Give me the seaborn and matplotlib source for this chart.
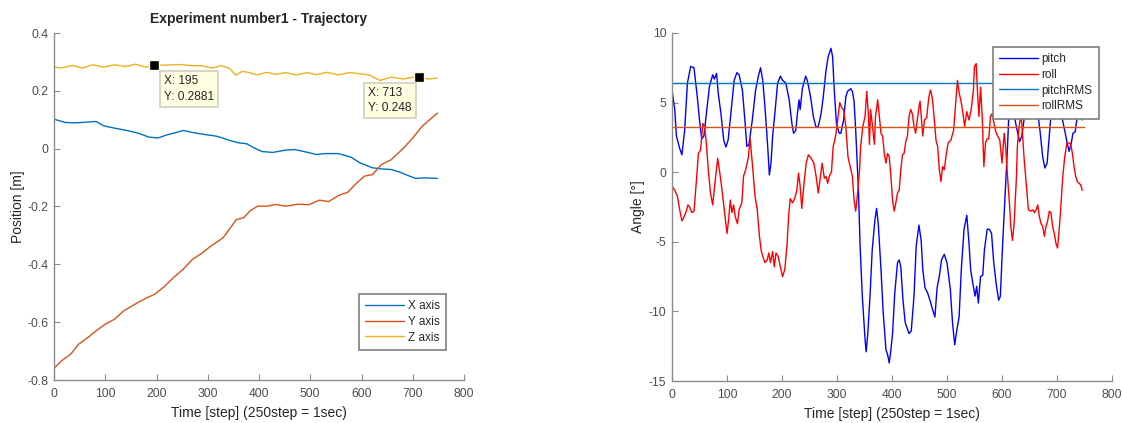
import numpy as np
import pandas as pd
import matplotlib
matplotlib.use("Agg")
import matplotlib.pyplot as plt
import seaborn as sns
from matplotlib.ticker import FuncFormatter

# ---------------- Left panel data (position, m) ----------------
x_steps = [0, 21, 39, 58, 82, 97, 118, 142, 167, 185, 203, 221, 239, 252, 270, 294, 318, 342, 361, 376,
           391, 406, 427, 452, 470, 488, 512, 530, 555, 579, 597, 621, 639, 658, 676, 691, 706, 724, 748]
x_vals = [0.102, 0.091, 0.089, 0.091, 0.094, 0.079, 0.071, 0.063, 0.052, 0.040, 0.037, 0.048, 0.056, 0.063,
          0.056, 0.049, 0.043, 0.029, 0.020, 0.017, 0.002, -0.010, -0.013, -0.005, -0.003, -0.010, -0.020,
          -0.017, -0.017, -0.029, -0.049, -0.066, -0.070, -0.072, -0.082, -0.093, -0.103, -0.101, -0.103]

y_steps = [0, 15, 33, 48, 64, 82, 100, 118, 136, 155, 167, 182, 197, 215, 233, 252, 270, 288, 306, 330,
           342, 356, 370, 382, 397, 415, 433, 452, 476, 497, 518, 536, 555, 573, 591, 606, 621, 639, 658,
           682, 700, 718, 748]
y_vals = [-0.760, -0.733, -0.710, -0.676, -0.656, -0.630, -0.607, -0.590, -0.561, -0.541, -0.529, -0.515,
          -0.503, -0.477, -0.446, -0.417, -0.383, -0.362, -0.337, -0.308, -0.279, -0.245, -0.239, -0.216,
          -0.199, -0.199, -0.193, -0.199, -0.192, -0.194, -0.178, -0.183, -0.162, -0.151, -0.118, -0.095,
          -0.090, -0.055, -0.038, 0.002, 0.037, 0.077, 0.123]

z_steps = [0, 15, 36, 55, 76, 97, 118, 139, 159, 179, 195, 215, 245, 270, 288, 309, 327, 342, 355, 367,
           379, 397, 415, 433, 452, 473, 494, 512, 533, 555, 576, 597, 615, 636, 658, 682, 700, 713, 730, 748]
z_vals = [0.282, 0.279, 0.288, 0.279, 0.290, 0.282, 0.290, 0.284, 0.292, 0.282, 0.2881, 0.289, 0.291, 0.287,
          0.287, 0.279, 0.287, 0.278, 0.254, 0.267, 0.264, 0.255, 0.264, 0.257, 0.263, 0.255, 0.263, 0.256,
          0.264, 0.255, 0.263, 0.259, 0.255, 0.236, 0.247, 0.241, 0.247, 0.248, 0.241, 0.244]

tip_steps = [195, 713]
tip_vals = [0.2881, 0.248]

left_labels = ["X axis", "Y axis", "Z axis"]

# ---------------- Right panel data (angle, deg) ----------------
pitch_steps = [0, 5, 8, 14, 18, 23, 28, 34, 40, 46, 50, 54, 58, 62, 68, 74, 77, 81, 84, 89, 94, 98, 102,
               107, 113, 118, 122, 128, 133, 136, 140, 146, 152, 157, 161, 165, 169, 174, 177, 180, 183,
               187, 192, 197, 201, 207, 213, 218, 221, 225, 228, 231, 233, 237, 243, 246, 252, 257, 262,
               266, 271, 275, 280, 284, 289, 292, 295, 299, 304, 307, 312, 316, 319, 325, 328, 331, 334,
               339, 342, 346, 351, 353, 356, 360, 364, 369, 372, 375, 380, 384, 389, 392, 395, 398, 401,
               405, 410, 413, 416, 420, 424, 431, 435, 440, 444, 449, 453, 456, 460, 465, 469, 474, 478,
               482, 486, 490, 495, 500, 506, 510, 514, 518, 522, 526, 531, 536, 540, 543, 547, 551, 554,
               557, 561, 565, 568, 573, 577, 581, 585, 590, 594, 597, 601, 606, 610, 613, 617, 621, 626,
               632, 636, 640, 645, 653, 660, 665, 669, 674, 678, 682, 686, 690, 694, 698, 701, 706, 710,
               714, 718, 722, 726, 729, 733, 736, 740, 743, 746]
pitch_vals = [5.9, 4.5, 2.6, 1.7, 1.25, 3.0, 6.4, 7.6, 7.5, 5.4, 3.75, 2.4, 2.6, 4.0, 6.15, 7.0, 6.7, 7.1,
              5.7, 4.2, 2.3, 1.8, 2.3, 4.2, 6.6, 7.15, 7.0, 5.9, 3.5, 1.85, 2.0, 3.75, 5.9, 6.9, 7.5, 6.6,
              4.7, 1.85, -0.2, 0.65, 2.6, 4.2, 6.4, 6.9, 6.6, 6.4, 5.2, 3.5, 2.8, 3.0, 4.2, 5.2, 4.5, 6.0,
              6.9, 6.6, 5.4, 4.0, 3.2, 3.3, 4.2, 5.4, 7.3, 8.3, 8.9, 8.3, 5.9, 3.5, 2.8, 2.8, 3.75, 5.4,
              5.8, 6.0, 5.8, 5.1, 3.0, -1.3, -5.3, -8.9, -12.0, -12.9, -11.6, -8.9, -5.6, -3.4, -2.6, -3.7,
              -7.0, -10.1, -12.75, -13.1, -13.7, -12.75, -11.6, -8.7, -6.5, -6.3, -6.8, -9.2, -10.8, -11.6,
              -11.4, -8.9, -5.3, -3.8, -4.9, -7.0, -8.3, -8.7, -9.2, -9.9, -10.4, -8.3, -7.5, -6.3, -5.9,
              -6.5, -8.4, -10.8, -12.4, -11.3, -10.4, -7.0, -4.1, -3.1, -5.1, -7.0, -8.0, -8.9, -8.2, -9.4,
              -7.5, -7.4, -5.6, -4.1, -4.1, -4.4, -6.5, -8.2, -9.2, -8.9, -5.3, -1.3, 1.8, 4.7, 5.8, 4.3,
              3.3, 2.2, 2.6, 3.75, 5.6, 7.0, 5.8, 4.3, 3.0, 1.1, 0.3, 0.65, 2.6, 4.6, 5.3, 4.3, 3.9, 4.1,
              3.75, 3.0, 2.2, 1.5, 2.1, 2.8, 2.9, 3.75, 4.6, 4.3, 3.75]

roll_steps = [0, 5, 10, 14, 18, 22, 26, 29, 32, 36, 40, 44, 48, 52, 56, 59, 62, 66, 70, 74, 78, 83, 87, 91,
              95, 100, 103, 106, 109, 112, 115, 119, 122, 127, 130, 134, 139, 142, 146, 151, 155, 159, 162,
              165, 169, 173, 176, 179, 183, 186, 189, 193, 197, 201, 205, 209, 212, 215, 219, 223, 227, 230,
              233, 236, 240, 244, 248, 253, 258, 262, 266, 270, 273, 277, 280, 283, 286, 290, 293, 296, 299,
              302, 305, 309, 312, 316, 320, 324, 328, 331, 334, 338, 341, 343, 347, 351, 354, 357, 359, 361,
              364, 368, 370, 374, 377, 380, 383, 386, 389, 392, 395, 398, 401, 404, 407, 410, 413, 416, 419,
              422, 425, 428, 431, 434, 437, 440, 443, 446, 449, 451, 454, 456, 459, 463, 467, 470, 473, 476,
              480, 483, 486, 489, 492, 495, 498, 502, 507, 512, 516, 519, 522, 525, 528, 532, 536, 540, 544,
              548, 550, 553, 555, 558, 561, 564, 567, 570, 573, 576, 579, 582, 588, 592, 596, 600, 604, 607,
              610, 614, 616, 619, 622, 626, 628, 631, 634, 636, 640, 644, 648, 652, 656, 659, 662, 665, 668,
              671, 674, 677, 680, 683, 686, 689, 692, 695, 698, 701, 704, 707, 710, 714, 718, 722, 725, 728,
              731, 734, 737, 740, 743, 746]
roll_vals = [-1.0, -1.3, -1.75, -2.7, -3.5, -3.2, -2.8, -2.35, -2.5, -2.9, -2.8, -0.8, 1.35, 1.6, 3.5, 3.3,
             2.3, 0.17, -1.5, -2.35, -0.8, 1.0, -0.07, -1.3, -2.7, -4.4, -3.4, -2.0, -2.9, -2.35, -3.2, -3.7,
             -2.7, -2.2, -0.3, 0.17, 1.1, 2.4, 0.65, -1.75, -2.7, -4.6, -5.6, -6.05, -6.5, -6.3, -5.8, -6.5,
             -5.7, -6.8, -5.8, -6.05, -6.8, -7.5, -7.0, -5.3, -3.2, -1.9, -2.2, -1.9, -1.3, -0.07, -1.0, -2.6,
             -0.8, 0.65, 1.25, 1.0, 0.65, -0.3, -1.5, -0.3, 0.65, -0.43, -0.3, -0.8, -0.3, 0.05, 1.85, 2.3,
             3.0, 4.0, 5.0, 4.6, 4.5, 3.3, 1.1, 0.4, -0.3, -2.0, -2.8, -1.3, 0.17, 1.85, 3.3, 4.0, 5.8, 4.2,
             2.0, 4.5, 3.5, 2.0, 4.0, 5.2, 4.0, 2.8, 2.6, 1.35, 0.65, 1.35, 1.1, -0.3, -2.0, -2.8, -2.2, -1.5,
             -1.3, 0.17, 1.25, 1.35, 2.2, 2.6, 4.0, 4.5, 4.2, 3.3, 2.8, 3.75, 4.7, 5.1, 3.6, 2.6, 3.75, 3.9,
             5.4, 5.9, 5.4, 4.2, 2.3, 1.85, 0.17, -0.67, 0.4, 0.17, 1.1, 2.1, 2.3, 3.0, 5.0, 6.6, 5.7, 5.2,
             4.5, 3.3, 4.35, 3.75, 4.5, 5.9, 7.6, 7.8, 6.1, 4.0, 6.1, 4.0, 0.4, 2.1, 2.4, 2.4, 4.0, 4.2, 3.0,
             2.6, 2.3, 0.65, 2.8, 1.6, -0.3, -2.5, -3.9, -4.9, -3.7, -0.55, 1.85, 3.3, 4.0, 3.5, 1.1, -0.8,
             -2.7, -2.8, -2.7, -2.9, -2.7, -2.35, -3.2, -3.7, -3.9, -4.6, -3.9, -3.5, -2.8, -2.9, -3.9, -4.4,
             -5.1, -5.45, -4.1, -2.5, -0.55, 1.1, 2.1, 2.1, 2.0, 1.35, 0.4, -0.3, -0.67, -0.8, -0.9, -1.3]

rms_steps = [0, 749]
pitch_rms = 6.43
roll_rms = 3.25

right_labels = ["pitch", "roll", "pitchRMS", "rollRMS"]

# ---------------- styling ----------------
sns.set_theme(style="white")
plt.rcParams['font.family'] = ['Liberation Sans', 'DejaVu Sans']

SPINE = '#8c8c8c'
TICKC = '#4d4d4d'
LABC = '#262626'

fig = plt.figure(figsize=(11.23, 4.23), dpi=100)
ax1 = fig.add_axes([54 / 1123, 1 - 380 / 423, 410 / 1123, 347 / 423])
ax2 = fig.add_axes([672 / 1123, 1 - 381 / 423, 440 / 1123, 348 / 423])


def draw(ax, xs, ys, color, label, lw=1.0):
    df = pd.DataFrame({'step': xs, 'val': ys})
    sns.lineplot(data=df, x='step', y='val', ax=ax, color=color, lw=lw,
                 label=label, sort=False, estimator=None)


draw(ax1, x_steps, x_vals, '#0072BD', left_labels[0])
draw(ax1, y_steps, y_vals, '#D95319', left_labels[1])
draw(ax1, z_steps, z_vals, '#EDB120', left_labels[2])

draw(ax2, pitch_steps, pitch_vals, '#0000FF', right_labels[0])
draw(ax2, roll_steps, roll_vals, '#FF0000', right_labels[1])
draw(ax2, rms_steps, [pitch_rms] * len(rms_steps), '#0072BD', right_labels[2])
draw(ax2, rms_steps, [roll_rms] * len(rms_steps), '#D95319', right_labels[3])

fmt = FuncFormatter(lambda v, p: f"{v:g}")
for ax in (ax1, ax2):
    for s in ('top', 'right'):
        ax.spines[s].set_visible(False)
    for s in ('left', 'bottom'):
        ax.spines[s].set_color(SPINE)
        ax.spines[s].set_linewidth(1.0)
    ax.set_xlim(0, 800)
    ax.set_xticks(list(range(0, 801, 100)))
    ax.tick_params(direction='in', length=4, width=0.8, color=SPINE, labelcolor=TICKC,
                   labelsize=8.7, left=True, bottom=True, top=False, right=False)
    ax.tick_params(axis='x', pad=6)
    ax.tick_params(axis='y', pad=4)
    ax.xaxis.set_major_formatter(fmt)
    ax.yaxis.set_major_formatter(fmt)
    ax.grid(False)

ax1.set_ylim(-0.8, 0.4)
ax1.set_yticks([-0.8, -0.6, -0.4, -0.2, 0, 0.2, 0.4])
ax1.set_title("Experiment number1 - Trajectory", fontsize=10, fontweight='bold', color=LABC, pad=7)

ax2.set_ylim(-15, 10)
ax2.set_yticks([-15, -10, -5, 0, 5, 10])

leg_kw = dict(fontsize=8.5, frameon=True, fancybox=False, framealpha=1, edgecolor='#7f7f7f',
              handlelength=3.3, handletextpad=0.3, labelspacing=0.3, borderpad=0.55,
              borderaxespad=0)
l1 = ax1.legend(loc='lower right', bbox_to_anchor=(1 - 18 / 410, 30 / 347), **leg_kw)
l2 = ax2.legend(loc='upper right', bbox_to_anchor=(1 - 13 / 440, 1 - 14 / 348), **leg_kw)
for lg in (l1, l2):
    lg.get_frame().set_linewidth(1.2)
    lg.set_zorder(10)
    for t in lg.get_texts():
        t.set_color(LABC)

# data tips
tips = pd.DataFrame({'step': tip_steps, 'val': tip_vals})
sns.scatterplot(data=tips, x='step', y='val', ax=ax1, marker='s', s=45, color='black',
                edgecolor='#FFFFE1', linewidth=1, zorder=6, legend=False)
offsets = [(10, -10, 'left'), (-8, -10, 'right')]
for sx, sy, (dx, dy, ha) in zip(tip_steps, tip_vals, offsets):
    ax1.annotate(f"X: {sx}\nY: {sy:g}", xy=(sx, sy), xytext=(dx, dy), textcoords='offset pixels',
                 ha=ha, va='top', multialignment='left', fontsize=8.6, color=LABC,
                 linespacing=1.35,
                 bbox=dict(boxstyle='square,pad=0.35', fc='#FFFFE1', ec='#cfcfc0', lw=1.2),
                 zorder=7)

for ax in (ax1, ax2):
    ax.set_xlabel("Time [step] (250step = 1sec)", fontsize=10, color=LABC, labelpad=4)
ax1.set_ylabel("Position [m]", fontsize=10, color=LABC, labelpad=2)
ax2.set_ylabel("Angle [°]", fontsize=10, color=LABC, labelpad=3)

fig.savefig("out.png", dpi=100, facecolor='white')
